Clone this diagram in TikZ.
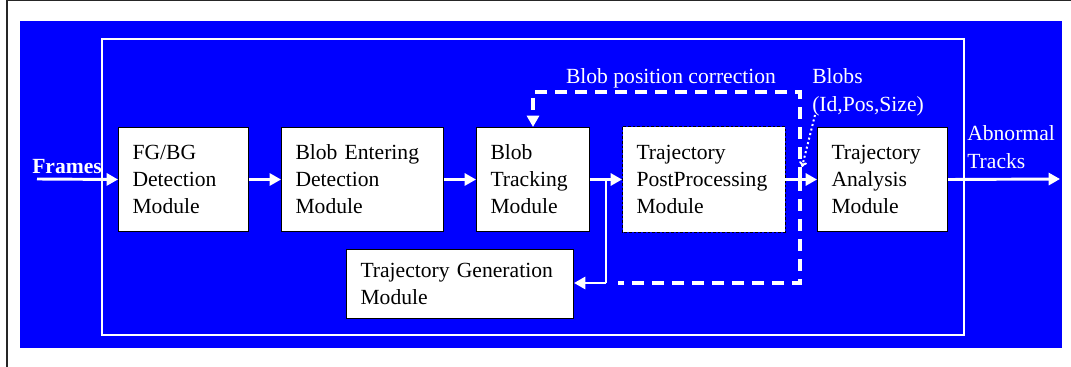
\documentclass[tikz,border=0pt]{standalone}
\usepackage{fontspec}
\setmainfont{Liberation Serif}
\usetikzlibrary{arrows.meta}
\definecolor{bgblue}{RGB}{0,0,255}
\begin{document}
\begin{tikzpicture}[x=0.75pt,y=-0.75pt,
  font=\fontsize{16.2pt}{20.3pt}\selectfont,
  box/.style={draw=black,line width=0.75pt,fill=white,anchor=north west,align=left,
    inner xsep=10.5pt,inner ysep=0pt},
  flow/.style={draw=white,line width=2.2pt,-{Triangle[length=8.5pt,width=9pt]}},
  wline/.style={draw=white,line width=2.2pt},
  dline/.style={draw=white,line width=2.4pt,dash pattern=on 9pt off 6pt},
  lbl/.style={text=white,inner sep=0pt,align=left}]
\useasboundingbox (0,0) rectangle (1071,367);
% outer frame lines
\draw[line width=1.5pt,black!85] (7,367) -- (7,0.5) -- (1071,0.5);
% blue background
\fill[bgblue] (20,21) rectangle (1062,348);
% inner white frame
\draw[white,line width=2.2pt] (102,39) rectangle (964,335);
% boxes
\node[box,text width={130*0.75pt-21pt},minimum height=78pt] (fgbg) at (118,127) {FG/BG\\Detection\\Module};
\node[box,text width={162*0.75pt-21pt},minimum height=78pt] (enter) at (281,127) {Blob Entering\\Detection\\Module};
\node[box,text width={113*0.75pt-21pt},minimum height=78pt] (track) at (476,127) {Blob\\Tracking\\Module};
\node[box,draw=none,text width={162*0.75pt-21pt},minimum height=78pt] (post) at (622,127) {Trajectory\\PostProcessing\\Module};
\draw[black,line width=0.75pt,dash pattern=on 2pt off 1.5pt] (post.north west) rectangle (post.south east);
\node[box,text width={130*0.75pt-21pt},minimum height=78pt] (ana) at (817,127) {Trajectory\\Analysis\\Module};
\node[box,text width={227*0.75pt-21pt},minimum height=51.75pt] (gen) at (346,249) {Trajectory Generation\\Module};
% coordinates
\coordinate (fin) at (37,179);
\coordinate (fout) at (1060,179);
\coordinate (br) at (606,179);
\coordinate (jn) at (800,179);
\coordinate (topc) at (800,92);
\coordinate (tin) at (533,92);
\coordinate (dstart) at (815,115);
\coordinate (dend) at (802,167);
% main flow
\draw[flow] (fin) -- (fgbg.west);
\draw[flow] (fgbg.east) -- (enter.west);
\draw[flow] (enter.east) -- (track.west);
\draw[flow] (track.east) -- (post.west);
\draw[flow] (post.east) -- (ana.west);
\draw[flow] (ana.east) -- (fout);
% branch to generation
\draw[wline] (br) -- (606,283);
\draw[flow] (606,283) -- (gen.east |- 0,283);
% dashed feedback
\draw[dline] (jn) |- (618,283);
\draw[dline,-{Triangle[length=8.5pt,width=9pt]}] (jn) |- (tin) -- (tin |- track.north);
% dotted
\draw[white,line width=1.5pt,dotted,-{To[length=4pt,width=6pt]}] (dstart) -- (dend);
% labels
\node[lbl,font=\fontsize{16.2pt}{20.3pt}\selectfont\bfseries,anchor=west] (frames) at (32,167) {Frames};
\node[lbl,anchor=center] (bpc) at (671,78) {Blob position correction};
\node[lbl,anchor=north west,font=\fontsize{16.2pt}{21pt}\selectfont] (blobs) at (812,68) {Blobs\\(Id,Pos,Size)};
\node[lbl,anchor=north west,font=\fontsize{16.2pt}{21pt}\selectfont] (abn) at (967,125) {Abnormal\\Tracks};
\end{tikzpicture}
\end{document}
